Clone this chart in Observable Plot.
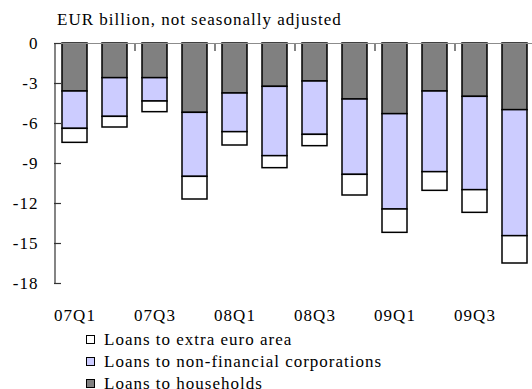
<!DOCTYPE html>
<html>
<head>
<meta charset="utf-8">
<script src="https://cdn.jsdelivr.net/npm/d3@7"></script>
<script src="https://cdn.jsdelivr.net/npm/@observablehq/plot@0.6"></script>
<style>
  html, body { margin: 0; padding: 0; background: #fff; overflow: hidden; }
  #chart { position: relative; width: 532px; height: 389px; font-family: "Liberation Serif", "Times New Roman", serif; color: #000; }
  .txt { position: absolute; font-size: 17px; line-height: 17px; letter-spacing: 1px; white-space: nowrap; }
  .sw { position: absolute; width: 7px; height: 7px; border: 1.5px solid #000; }
  #plot { position: absolute; left: 0; top: 30px; }
</style>
</head>
<body>
<div id="chart"></div>
<script>
const quarters = ["07Q1","07Q2","07Q3","07Q4","08Q1","08Q2","08Q3","08Q4","09Q1","09Q2","09Q3","09Q4"];
const households = [-3.6, -2.6, -2.6, -5.2, -3.75, -3.25, -2.85, -4.2, -5.3, -3.6, -4.0, -5.0];
const nonFinancial = [-2.8, -2.9, -1.75, -4.8, -2.9, -5.2, -4.0, -5.65, -7.15, -6.05, -7.0, -9.45];
const extraEuro = [-1.05, -0.8, -0.8, -1.7, -1.0, -0.9, -0.85, -1.55, -1.75, -1.4, -1.7, -2.05];
const seriesNames = ["Loans to households", "Loans to non-financial corporations", "Loans to extra euro area"];
const seriesColors = ["#808080", "#ccccff", "#ffffff"];
const xTickLabels = ["07Q1","07Q3","08Q1","08Q3","09Q1","09Q3"];
const xTickMarks = ["07Q2","07Q4","08Q2","08Q4","09Q2"];
const yTicks = [0, -3, -6, -9, -12, -15, -18];
const title = "EUR billion, not seasonally adjusted";
const legendOrder = ["Loans to extra euro area", "Loans to non-financial corporations", "Loans to households"];

const seriesValues = [households, nonFinancial, extraEuro];
const rows = [];
quarters.forEach((q, i) => {
  seriesNames.forEach((s, j) => rows.push({quarter: q, series: s, value: seriesValues[j][i]}));
});

const chart = document.getElementById("chart");

const t = document.createElement("div");
t.className = "txt";
t.style.left = "57px";
t.style.top = "11px";
t.textContent = title;
chart.appendChild(t);

const plot = Plot.plot({
  width: 532,
  height: 300,
  marginTop: 13,
  marginBottom: 47,
  marginLeft: 54,
  marginRight: 0,
  style: {fontFamily: "'Liberation Serif', 'Times New Roman', serif", fontSize: "17px", letterSpacing: "1px", color: "#000", background: "#fff"},
  x: {domain: quarters, range: [54, 534], paddingInner: 0.375, paddingOuter: 0.1875, label: null},
  y: {domain: [-18, 0], ticks: yTicks, label: null},
  color: {domain: seriesNames, range: seriesColors},
  marks: [
    Plot.barY(rows, Plot.stackY({x: "quarter", y: "value", fill: "series", stroke: "#000", strokeWidth: 1.5})),
    Plot.ruleY([0], {stroke: "#8c8c8c", strokeWidth: 1.2}),
    Plot.ruleX([quarters[0]], {dx: -20, stroke: "#333", strokeWidth: 1.2}),
    Plot.axisY({ticks: yTicks, tickSize: 7, dx: 7, text: null, label: null, stroke: "#333", strokeWidth: 1.2}),
    Plot.axisY({ticks: yTicks, tickSize: 0, tickPadding: 16, label: null, tickFormat: d => String(d).replace("−", "-"), fill: "#000"}),
    Plot.axisX({anchor: "top", ticks: xTickMarks, tickSize: 7, dy: 7, dx: 20, text: null, label: null, stroke: "#333", strokeWidth: 1.2}),
    Plot.axisX({anchor: "bottom", ticks: xTickLabels, tickSize: 0, tickPadding: 25, label: null, fill: "#000"})
  ]
});
plot.id = "plot";
chart.appendChild(plot);

legendOrder.forEach((name, i) => {
  const baseline = 345 + i * 22;
  const sw = document.createElement("div");
  sw.className = "sw";
  sw.style.left = "86px";
  sw.style.top = (baseline - 10) + "px";
  sw.style.background = seriesColors[seriesNames.indexOf(name)];
  chart.appendChild(sw);
  const lt = document.createElement("div");
  lt.className = "txt";
  lt.style.left = "104px";
  lt.style.top = (baseline - 14) + "px";
  lt.textContent = name;
  chart.appendChild(lt);
});
</script>
</body>
</html>
